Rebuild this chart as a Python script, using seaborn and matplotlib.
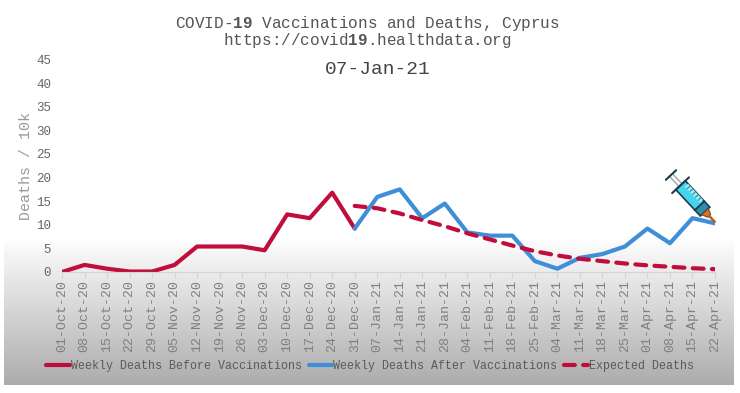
import numpy as np
import pandas as pd
import seaborn as sns
import matplotlib.pyplot as plt
from matplotlib.patches import Rectangle, Polygon
from matplotlib.transforms import Affine2D

dates = ['01-Oct-20', '08-Oct-20', '15-Oct-20', '22-Oct-20', '29-Oct-20', '05-Nov-20',
         '12-Nov-20', '19-Nov-20', '26-Nov-20', '03-Dec-20', '10-Dec-20', '17-Dec-20',
         '24-Dec-20', '31-Dec-20', '07-Jan-21', '14-Jan-21', '21-Jan-21', '28-Jan-21',
         '04-Feb-21', '11-Feb-21', '18-Feb-21', '25-Feb-21', '04-Mar-21', '11-Mar-21',
         '18-Mar-21', '25-Mar-21', '01-Apr-21', '08-Apr-21', '15-Apr-21', '22-Apr-21']
before = [0, 1.5, 0.7, 0.1, 0.1, 1.5, 5.4, 5.4, 5.4, 4.6, 12.2, 11.4, 16.8, 9.2]
after = [9.2, 15.9, 17.5, 11.4, 14.5, 8.4, 7.7, 7.7, 2.3, 0.7, 3.0, 3.8, 5.4, 9.2, 6.1, 11.4, 10.3]
expected = [14.0, 13.5, 12.4, 11.0, 9.7, 8.2, 6.9, 5.6, 4.4, 3.5, 2.8, 2.3, 1.8, 1.4, 1.1, 0.8, 0.6]
y_ticks = [0, 5, 10, 15, 20, 25, 30, 35, 40, 45]

MONO = 'Liberation Mono'
GREY = '#808080'
RED = '#c00d3c'
BLUE = '#3f8fd8'

sns.set_theme(style='white')
plt.rcParams['font.family'] = MONO
plt.rcParams['mathtext.fontset'] = 'custom'
plt.rcParams['mathtext.bf'] = MONO + ':bold'
plt.rcParams['mathtext.rm'] = MONO

W, H = 740, 393
fig = plt.figure(figsize=(W / 100, H / 100), dpi=100)

# grey fade behind the lower part of the chart
bg = fig.add_axes([0, 0, 1, 1], zorder=0)
bg.axis('off')
fade = np.clip((np.arange(235, 385) - 235) / 150, 0, 1)[:, None]
bg.imshow(1 - 0.33 * fade, extent=(4, 734, 385, 235), cmap='gray', vmin=0, vmax=1, aspect='auto')
bg.set_xlim(0, W)
bg.set_ylim(H, 0)

ax = fig.add_axes([62 / W, 1 - 272 / H, (715 - 62) / W, (272 - 59.5) / H], zorder=1)
ax.patch.set_alpha(0)

week = np.arange(len(dates))
df_before = pd.DataFrame({'week': week[:len(before)], 'v': before})
df_after = pd.DataFrame({'week': week[-len(after):], 'v': after})
df_exp = pd.DataFrame({'week': week[-len(expected):], 'v': expected})

sns.lineplot(data=df_before, x='week', y='v', ax=ax, color=RED, linewidth=3,
             label='Weekly Deaths Before Vaccinations', solid_capstyle='round')
sns.lineplot(data=df_after, x='week', y='v', ax=ax, color=BLUE, linewidth=3,
             label='Weekly Deaths After Vaccinations', solid_capstyle='round')
sns.lineplot(data=df_exp, x='week', y='v', ax=ax, color=RED, linewidth=3,
             label='Expected Deaths', linestyle=(0, (2.6, 2.0)), dash_capstyle='round')

ax.set_xlim(0, len(dates) - 1)
ax.set_ylim(0, 45)
ax.set_xticks(week)
ax.set_xticklabels(dates, rotation=90, fontsize=9.5, color=GREY)
ax.set_yticks(y_ticks)
ax.set_yticklabels(y_ticks, fontsize=9, color='#666666')
ax.tick_params(axis='x', length=4, width=0.8, color='#d4d4d4', pad=2, bottom=True)
ax.tick_params(axis='y', length=0, pad=8)
ax.set_xlabel('')
ax.set_ylabel('Deaths / 10k', fontsize=10.8, color='#999999', labelpad=2)
for s in ['top', 'right', 'left']:
    ax.spines[s].set_visible(False)
ax.spines['bottom'].set_color('#d4d4d4')
ax.spines['bottom'].set_linewidth(0.8)

handles, labels = ax.get_legend_handles_labels()
ax.get_legend().remove()
fig.legend(handles, labels, ncol=3, loc='center', bbox_to_anchor=(370 / W, 1 - 366 / H), frameon=False,
           fontsize=8.4, labelcolor='#5a5a5a', handlelength=2.0, handletextpad=0.1, columnspacing=0.6,
           borderpad=0, borderaxespad=0)

fig.text(367 / W, 1 - 32 / H,
         'COVID-$\\mathbf{19}$ Vaccinations and Deaths, Cyprus\nhttps://covid$\\mathbf{19}$.healthdata.org',
         ha='center', va='center', ma='center', fontsize=11.5, color='#555555', linespacing=0.85)
fig.text(378 / W, 1 - 70 / H, '07-Jan-21', ha='center', va='center', fontsize=14, color='#444444')

# syringe, drawn along its own axis then turned into place
top = fig.add_axes([0, 0, 1, 1], zorder=2)
top.set_xlim(0, W)
top.set_ylim(H, 0)
top.axis('off')
syr = Affine2D().rotate_deg(47).translate(671, 175) + top.transData
DARK = '#1d3b4f'
top.add_patch(Rectangle((14, -6.5), 28, 13, fc='#45d3ee', ec=DARK, lw=1.2, transform=syr))
top.add_patch(Rectangle((18, -6.5), 22, 4.5, fc='#9beaf7', ec='none', transform=syr))
top.add_patch(Rectangle((42, -6.5), 8, 13, fc='#2f8fa8', ec=DARK, lw=1.2, transform=syr))
top.add_patch(Polygon([(50, -4.5), (50, 4.5), (56, 2), (56, -2)], fc='#d9722e', ec='#7a4a2a', lw=0.8, transform=syr))
top.add_patch(Rectangle((56, -1.3), 9, 2.6, fc='#b8602a', ec='none', transform=syr))
top.plot([0, 14], [-2, -2], color='#9aa6ad', lw=1, transform=syr)
top.plot([0, 14], [2, 2], color='#9aa6ad', lw=1, transform=syr)
top.plot([0, 0], [-7, 7], color=DARK, lw=1.5, transform=syr)
top.plot([14, 14], [-11.5, 11.5], color=DARK, lw=1.5, transform=syr)
for u in [21, 25, 29, 33, 37]:
    top.plot([u, u], [-6.5, -2.5], color='#1c7f99', lw=0.7, transform=syr)

fig.savefig('out.png', dpi=100)
